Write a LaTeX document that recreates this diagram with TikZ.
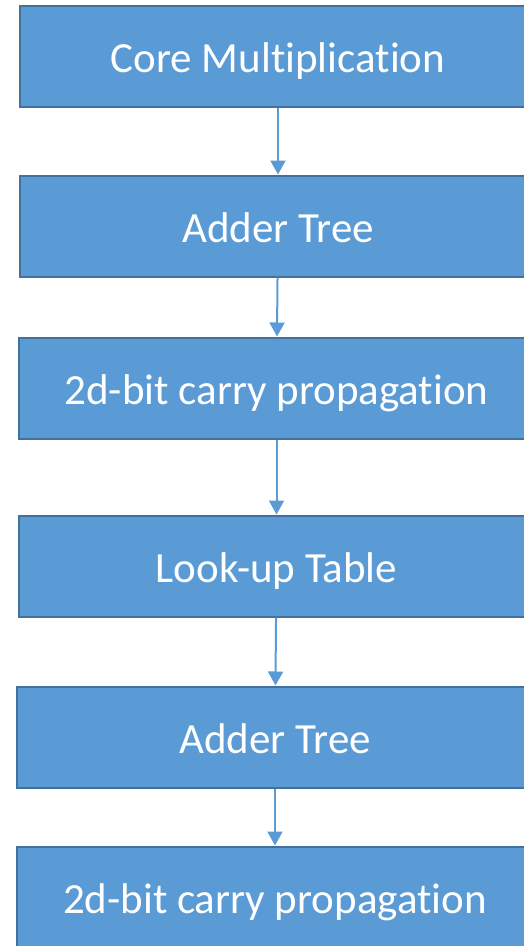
\documentclass[tikz,border=0pt]{standalone}
\usepackage{fontspec}
\setmainfont{Carlito}[Ligatures=CommonOff]
\usetikzlibrary{arrows.meta}
\definecolor{boxfill}{HTML}{5B9BD5}
\definecolor{boxline}{HTML}{41719C}
\tikzset{
  ->/.style={draw=boxfill,line width=2pt,-{Triangle[width=15pt,length=14pt]}},
  stage/.style={draw=boxline,fill=boxfill,line width=2pt,minimum width=516pt,
    minimum height=101pt,inner sep=0pt,text height=33pt,text depth=1pt,
    text=white,font=\fontsize{43}{48}\selectfont}
}

\begin{document}
\begin{tikzpicture}[x=1pt,y=-1pt]
    \useasboundingbox (0,0) rectangle (524,946);
    \node[stage] (A) at (278,56.5) {Core Multiplication};
    \node[stage] (B) at (278,226) {Adder Tree};
    \node[stage] (C) at (276.5,388) {2d-bit carry propagation};
    \node[stage] (D) at (276.5,566) {Look-up Table};
    \node[stage] (E) at (275,737) {Adder Tree};
    \node[stage] (F) at (275,897) {2d-bit carry propagation};
    \draw [->] (A) -- (B);
    \draw [->] (B) -- (C);
    \draw [->] (C) -- (D);
    \draw [->] (D) -- (E);
    \draw [->] (E) -- (F);
\end{tikzpicture}
\end{document}
